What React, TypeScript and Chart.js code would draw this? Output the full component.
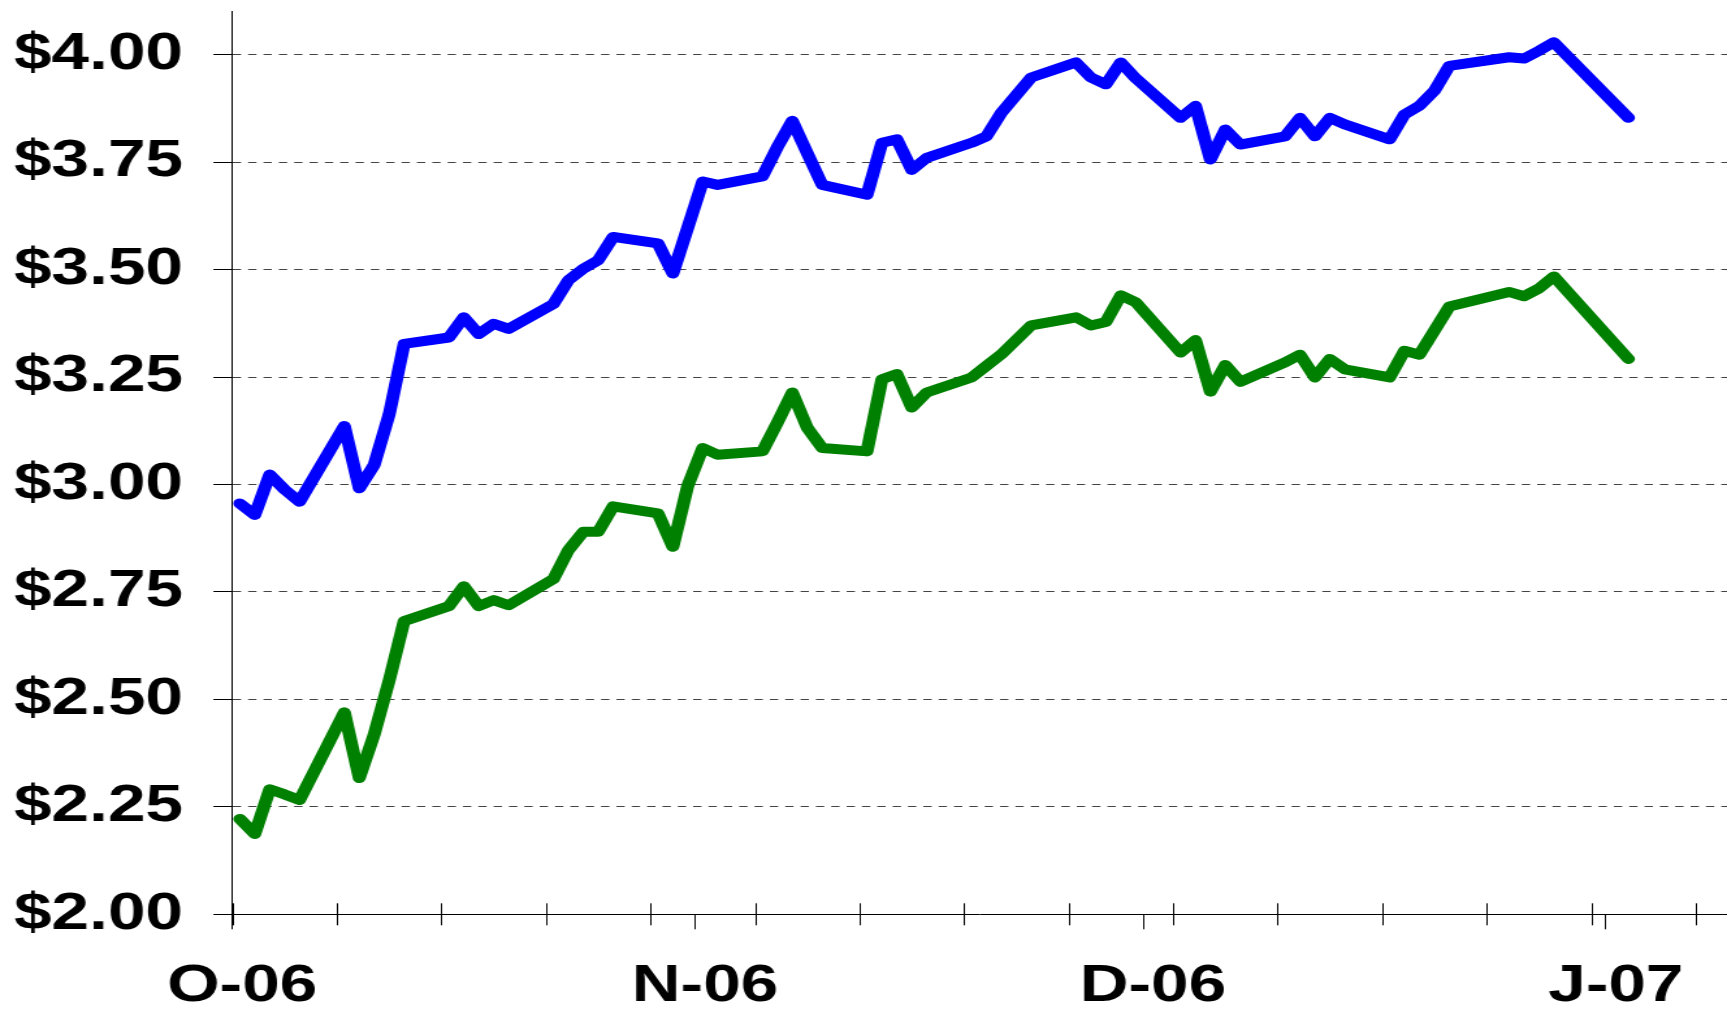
import React, { useEffect, useRef } from 'react';
import { Chart, registerables } from 'chart.js';

Chart.register(...registerables);

// Day numbers counted from 1 Oct 2006 (day 0 = O-06)
const days = [
  0, 1, 2, 3, 4, 7, 8, 9, 10, 11, 14, 15, 16, 17, 18, 21, 22, 23, 24, 25,
  28, 29, 30, 31, 32, 35, 36, 37, 38, 39, 42, 43, 44, 45, 46, 49, 50, 51, 53,
  56, 57, 58, 59, 60, 63, 64, 65, 66, 67, 70, 71, 72, 73, 74, 77, 78, 79, 80, 81,
  85, 86, 87, 88, 93,
];

const blueSeries = [
  2.956, 2.929, 3.023, 2.988, 2.960,
  3.136, 2.991, 3.046, 3.163, 3.327,
  3.342, 3.389, 3.350, 3.374, 3.362,
  3.420, 3.475, 3.502, 3.522, 3.576,
  3.561, 3.491, 3.598, 3.705, 3.697,
  3.717, 3.785, 3.846, 3.771, 3.697,
  3.674, 3.795, 3.803, 3.732, 3.760,
  3.795, 3.810, 3.865, 3.947,
  3.982, 3.947, 3.931, 3.982, 3.945,
  3.853, 3.881, 3.756, 3.826, 3.791,
  3.810, 3.853, 3.810, 3.853, 3.838,
  3.803, 3.861, 3.881, 3.916, 3.974,
  3.994, 3.991, 4.009, 4.029,
  3.853,
];

const greenSeries = [
  2.222, 2.187, 2.291, 2.279, 2.266,
  2.470, 2.317, 2.419, 2.544, 2.682,
  2.717, 2.763, 2.717, 2.731, 2.719,
  2.780, 2.847, 2.890, 2.890, 2.949,
  2.933, 2.855, 2.997, 3.085, 3.069,
  3.077, 3.144, 3.214, 3.132, 3.085,
  3.077, 3.245, 3.257, 3.179, 3.214,
  3.249, 3.276, 3.303, 3.370,
  3.389, 3.370, 3.378, 3.440, 3.424,
  3.307, 3.336, 3.216, 3.278, 3.239,
  3.284, 3.302, 3.249, 3.292, 3.268,
  3.249, 3.311, 3.302, 3.358, 3.414,
  3.448, 3.438, 3.456, 3.484,
  3.292,
];

const monthStartDays = [0, 31, 61, 92];
const monthLabels = ['O-06', 'N-06', 'D-06', 'J-07'];
const weekTickDays = [0, 7, 14, 21, 28, 35, 42, 49, 56, 63, 70, 77, 84, 91, 98];
const yTickValues = [2.0, 2.25, 2.5, 2.75, 3.0, 3.25, 3.5, 3.75, 4.0];

const X_MIN = 0;
const X_MAX = 100.1;
const Y_MIN = 2.0;
const Y_MAX = 4.1;

// The reference is horizontally stretched: draw narrow, stretch with CSS.
const OUT_W = 1727;
const OUT_H = 1011;
const STRETCH = 1.3;
const CANVAS_W = Math.round(OUT_W / STRETCH);

const FONT = {
  family: '"Liberation Sans", Arial, Helvetica, sans-serif',
  size: 52,
  weight: 'bold' as const,
};

const weekTicksPlugin = {
  id: 'weekTicks',
  afterDraw(chart: any) {
    const { ctx, chartArea } = chart;
    const xs = chart.scales.x;
    ctx.save();
    ctx.strokeStyle = '#000';
    ctx.lineWidth = 1;
    ctx.beginPath();
    weekTickDays.forEach((d) => {
      const px = Math.round(xs.getPixelForValue(d)) + 0.5;
      ctx.moveTo(px, chartArea.bottom - 11);
      ctx.lineTo(px, chartArea.bottom + 11);
    });
    ctx.stroke();
    ctx.restore();
  },
};

export default function App() {
  const canvasRef = useRef<HTMLCanvasElement | null>(null);

  useEffect(() => {
    const canvas = canvasRef.current;
    if (!canvas) return;
    const chart = new Chart(canvas, {
      type: 'line',
      data: {
        datasets: [
          {
            label: 'Series 1',
            data: days.map((d, i) => ({ x: d + 0.5, y: blueSeries[i] })),
            borderColor: '#0000ff',
            backgroundColor: '#0000ff',
            borderWidth: 10,
            pointRadius: 0,
            tension: 0,
            borderCapStyle: 'round',
            borderJoinStyle: 'round',
            fill: false,
          },
          {
            label: 'Series 2',
            data: days.map((d, i) => ({ x: d + 0.5, y: greenSeries[i] })),
            borderColor: '#008000',
            backgroundColor: '#008000',
            borderWidth: 10,
            pointRadius: 0,
            tension: 0,
            borderCapStyle: 'round',
            borderJoinStyle: 'round',
            fill: false,
          },
        ],
      },
      options: {
        animation: false,
        responsive: false,
        devicePixelRatio: 1,
        layout: { padding: { top: 11.7, left: 0, right: 0, bottom: 0 } },
        plugins: {
          legend: { display: false },
          tooltip: { enabled: false },
        },
        scales: {
          x: {
            type: 'linear',
            min: X_MIN,
            max: X_MAX,
            afterBuildTicks: (s: any) => {
              s.ticks = monthStartDays.map((v) => ({ value: v }));
            },
            afterFit: (s: any) => {
              s.height = OUT_H - 914.3;
              s.paddingLeft = 0;
              s.paddingRight = 0;
            },
            grid: {
              display: true,
              drawOnChartArea: false,
              drawTicks: true,
              tickLength: 15,
              tickColor: '#000',
              tickWidth: 1,
            },
            border: { display: true, color: '#000', width: 1 },
            ticks: {
              autoSkip: false,
              maxRotation: 0,
              minRotation: 0,
              padding: 26,
              labelOffset: 7.5,
              color: '#000',
              font: FONT,
              callback: (_v: any, i: number) => monthLabels[i],
            },
          },
          y: {
            type: 'linear',
            min: Y_MIN,
            max: Y_MAX,
            afterBuildTicks: (s: any) => {
              s.ticks = yTickValues.map((v) => ({ value: v }));
            },
            afterFit: (s: any) => {
              s.width = 232.3 / STRETCH;
              s.paddingTop = 0;
              s.paddingBottom = 0;
            },
            grid: {
              display: true,
              drawOnChartArea: true,
              drawTicks: true,
              color: '#444',
              lineWidth: 1,
              tickLength: 14.6,
              tickColor: '#000',
              tickWidth: 1,
              tickBorderDash: [],
            },
            border: { display: true, color: '#000', width: 1, dash: [6.4, 5.4] },
            ticks: {
              padding: 23.3,
              color: '#000',
              font: FONT,
              callback: (v: any) => '$' + Number(v).toFixed(2),
            },
          },
        },
      },
      plugins: [weekTicksPlugin],
    } as any);
    return () => chart.destroy();
  }, []);

  return (
    <div
      style={{
        position: 'fixed',
        left: 0,
        top: 0,
        width: OUT_W,
        height: OUT_H,
        background: '#fff',
      }}
    >
      <canvas
        ref={canvasRef}
        width={CANVAS_W}
        height={OUT_H}
        style={{ display: 'block', width: `${OUT_W}px`, height: `${OUT_H}px` }}
      />
    </div>
  );
}
